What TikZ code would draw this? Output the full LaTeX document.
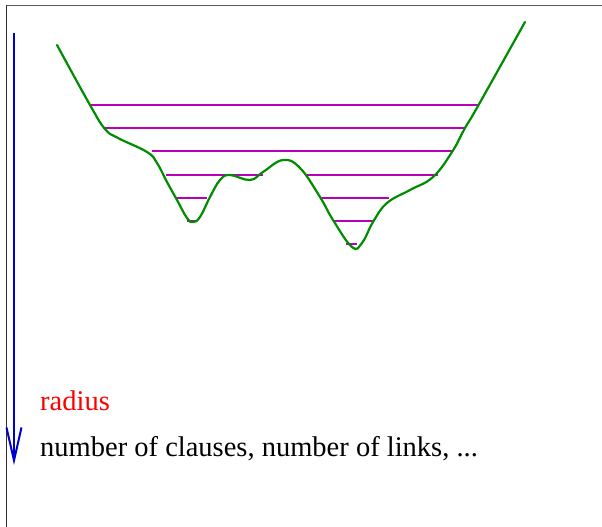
\documentclass[tikz,border=0pt]{standalone}
\usepackage{fontspec}
\setmainfont{Liberation Serif}
\usetikzlibrary{arrows.meta}
\definecolor{curvegreen}{rgb}{0,0.55,0}
\definecolor{levelmag}{rgb}{0.72,0,0.72}
\definecolor{axisblue}{rgb}{0,0,0.8}
\tikzset{
  level/.style={levelmag, line width=2.2pt},
  landscape/.style={curvegreen, line width=2.2pt, line cap=round},
  label/.style={anchor=base west, inner sep=0pt, font=\fontsize{28.5}{30}\selectfont},
}
\begin{document}
\begin{tikzpicture}[x=1pt,y=-1pt]
\useasboundingbox (0,0) rectangle (602,527);
% frame
\draw[gray!70!black, line width=1pt] (6,5.5) -- (602,5.5);
\draw[black!80, line width=1pt] (6,5.5) -- (6,527);
% axis arrow
\draw[axisblue, line width=2pt, -{Straight Barb[length=33pt,width=15pt,line width=2pt]}] (14,33) -- (14,465);
% levels
\draw[level] (90,105) -- (478,105);
\draw[level] (103,128) -- (466,128);
\draw[level] (152,151) -- (452,151);
\draw[level] (166,175) -- (263,175);
\draw[level] (306,175) -- (438,175);
\draw[level] (176,198) -- (207,198);
\draw[level] (320,198) -- (389,198);
\draw[level] (187,221) -- (196,221);
\draw[level] (333,221) -- (373,221);
\draw[level] (346,244) -- (357,244);
% landscape
\draw[landscape] plot[smooth, tension=0.7] coordinates {
 (57,45) (90,105) (105,129) (118,138) (147,152) (157,163) (167,182) (177,200)
 (187,218) (193,222) (200,217) (210,197) (220,180) (230,175) (250,180)
 (263,172) (283,160) (300,168) (320,197) (333,220) (352,247) (362,243)
 (373,222) (387,203) (410,190) (433,177) (452,152) (465,128) (478,106) (525,22)};
% texts
\node[label, red] (r) at (40,410) {radius};
\node[label, black] (n) at (40,456) {number of clauses, number of links, ...};
\end{tikzpicture}
\end{document}
